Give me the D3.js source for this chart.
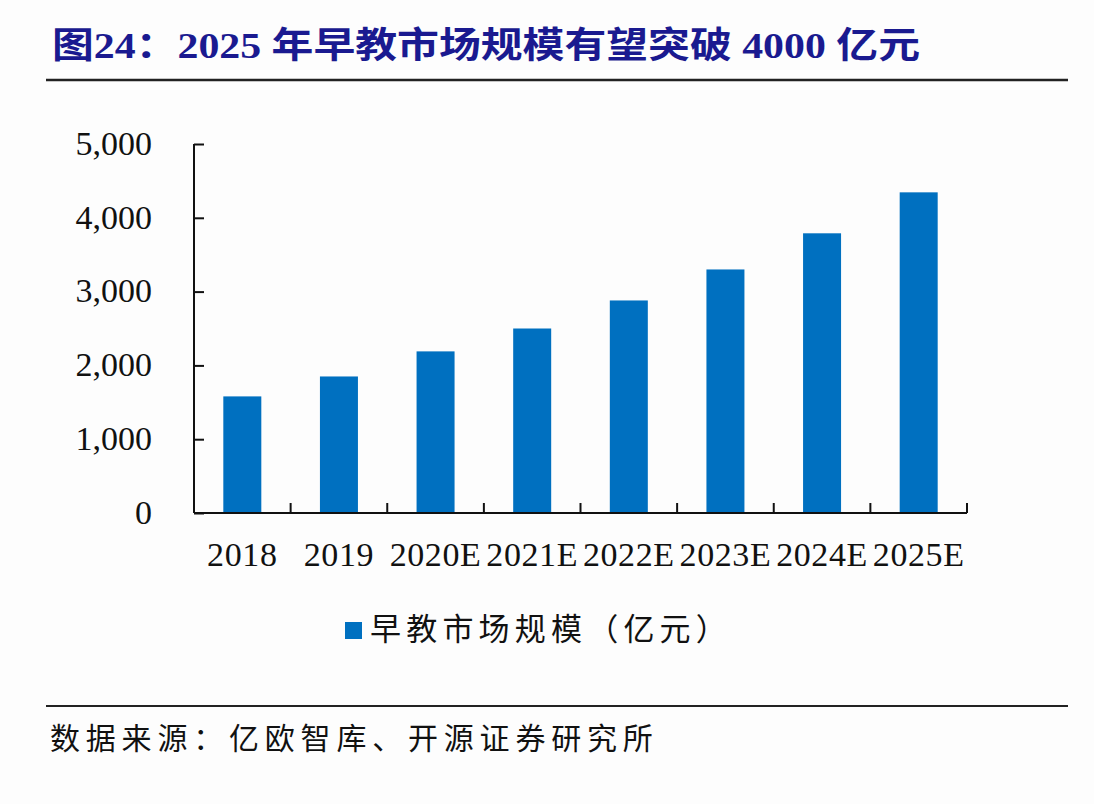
<!DOCTYPE html>
<html>
<head>
<meta charset="utf-8">
<script src="https://cdn.jsdelivr.net/npm/d3@7/dist/d3.min.js"></script>
<style>
  html, body { margin: 0; padding: 0; background: #fdfdfd; }
  svg { display: block; }
</style>
</head>
<body>
<svg id="chart" width="1094" height="804"></svg>
<script>
const categories = ["2018", "2019", "2020E", "2021E", "2022E", "2023E", "2024E", "2025E"];
const marketSize = [1580, 1850, 2190, 2500, 2880, 3300, 3790, 4345];
const yTicks = [0, 1000, 2000, 3000, 4000, 5000];
const seriesName = "早教市场规模（亿元）";
const titleText = "图24：2025 年早教市场规模有望突破 4000 亿元";
const sourceText = "数据来源：亿欧智库、开源证券研究所";

(function () {
const svg = d3.select("#chart");
const W = 1094, H = 804;
svg.append("rect").attr("width", W).attr("height", H).attr("fill", "#fdfdfd");

const serif = "'Liberation Serif', 'Times New Roman', 'Noto Sans CJK SC', serif";
const cjk = "'Noto Sans CJK SC', 'Liberation Serif', sans-serif";

// Title
svg.append("text")
  .attr("x", 52).attr("y", 50)
  .attr("dominant-baseline", "middle")
  .attr("font-family", serif)
  .attr("font-weight", "bold")
  .attr("font-size", 36)
  .attr("fill", "#1a1a90")
  .attr("textLength", 868)
  .attr("lengthAdjust", "spacingAndGlyphs")
  .text(titleText);

svg.append("line").attr("x1", 46).attr("x2", 1068).attr("y1", 80).attr("y2", 80)
  .attr("stroke", "#222").attr("stroke-width", 2.5);

// Plot
const pL = 194, pR = 967, pT = 144, pB = 513;
const xb = d3.scaleBand().domain(categories).range([pL, pR]).padding(0);
const y = d3.scaleLinear().domain([0, 5000]).range([pB, pT]);
const barW = 38;

svg.append("g").selectAll("rect").data(marketSize).join("rect")
  .attr("x", (d, i) => xb(categories[i]) + xb.bandwidth() / 2 - barW / 2)
  .attr("width", barW)
  .attr("y", d => y(d))
  .attr("height", d => pB - y(d))
  .attr("fill", "#0070c0");

// Y axis
const yAxis = svg.append("g").attr("transform", `translate(${pL},0)`)
  .call(d3.axisLeft(y).tickValues(yTicks).tickSize(-10).tickPadding(42)
    .tickFormat(d3.format(",")));
yAxis.select(".domain").attr("stroke", "#111").attr("stroke-width", 2).attr("d", `M0,${pT}V${pB}`);
yAxis.selectAll(".tick line").attr("stroke", "#111").attr("stroke-width", 2);
yAxis.selectAll(".tick text").attr("font-family", serif).attr("font-size", 34).attr("fill", "#111").attr("dy", "0.3em");

// X axis
const xAxis = svg.append("g").attr("transform", `translate(0,${pB})`)
  .call(d3.axisBottom(xb).tickSize(0).tickPadding(53));
xAxis.select(".domain").attr("stroke", "#111").attr("stroke-width", 2).attr("d", `M${pL},0H${pR}`);
xAxis.selectAll(".tick text").attr("font-family", serif).attr("font-size", 34).attr("fill", "#111")
  .attr("dy", "0").attr("letter-spacing", 0.6);
const bounds = categories.map(c => xb(c)).concat([pR]);
svg.append("g").selectAll("line").data(bounds).join("line")
  .attr("x1", d => d).attr("x2", d => d)
  .attr("y1", pB - 10).attr("y2", pB)
  .attr("stroke", "#111").attr("stroke-width", 2);

// Legend
svg.append("rect").attr("x", 345).attr("y", 622).attr("width", 17).attr("height", 17).attr("fill", "#0070c0");
svg.append("text").attr("x", 370).attr("y", 632)
  .attr("dominant-baseline", "middle")
  .attr("font-family", cjk).attr("font-size", 31).attr("letter-spacing", 5.2)
  .attr("fill", "#111")
  .text(seriesName);

// Source
svg.append("line").attr("x1", 46).attr("x2", 1068).attr("y1", 706).attr("y2", 706)
  .attr("stroke", "#222").attr("stroke-width", 2);
svg.append("text").attr("x", 50).attr("y", 741)
  .attr("dominant-baseline", "middle")
  .attr("font-family", cjk).attr("font-size", 30).attr("letter-spacing", 5.8)
  .attr("fill", "#111")
  .text(sourceText);
})();
</script>
</body>
</html>
